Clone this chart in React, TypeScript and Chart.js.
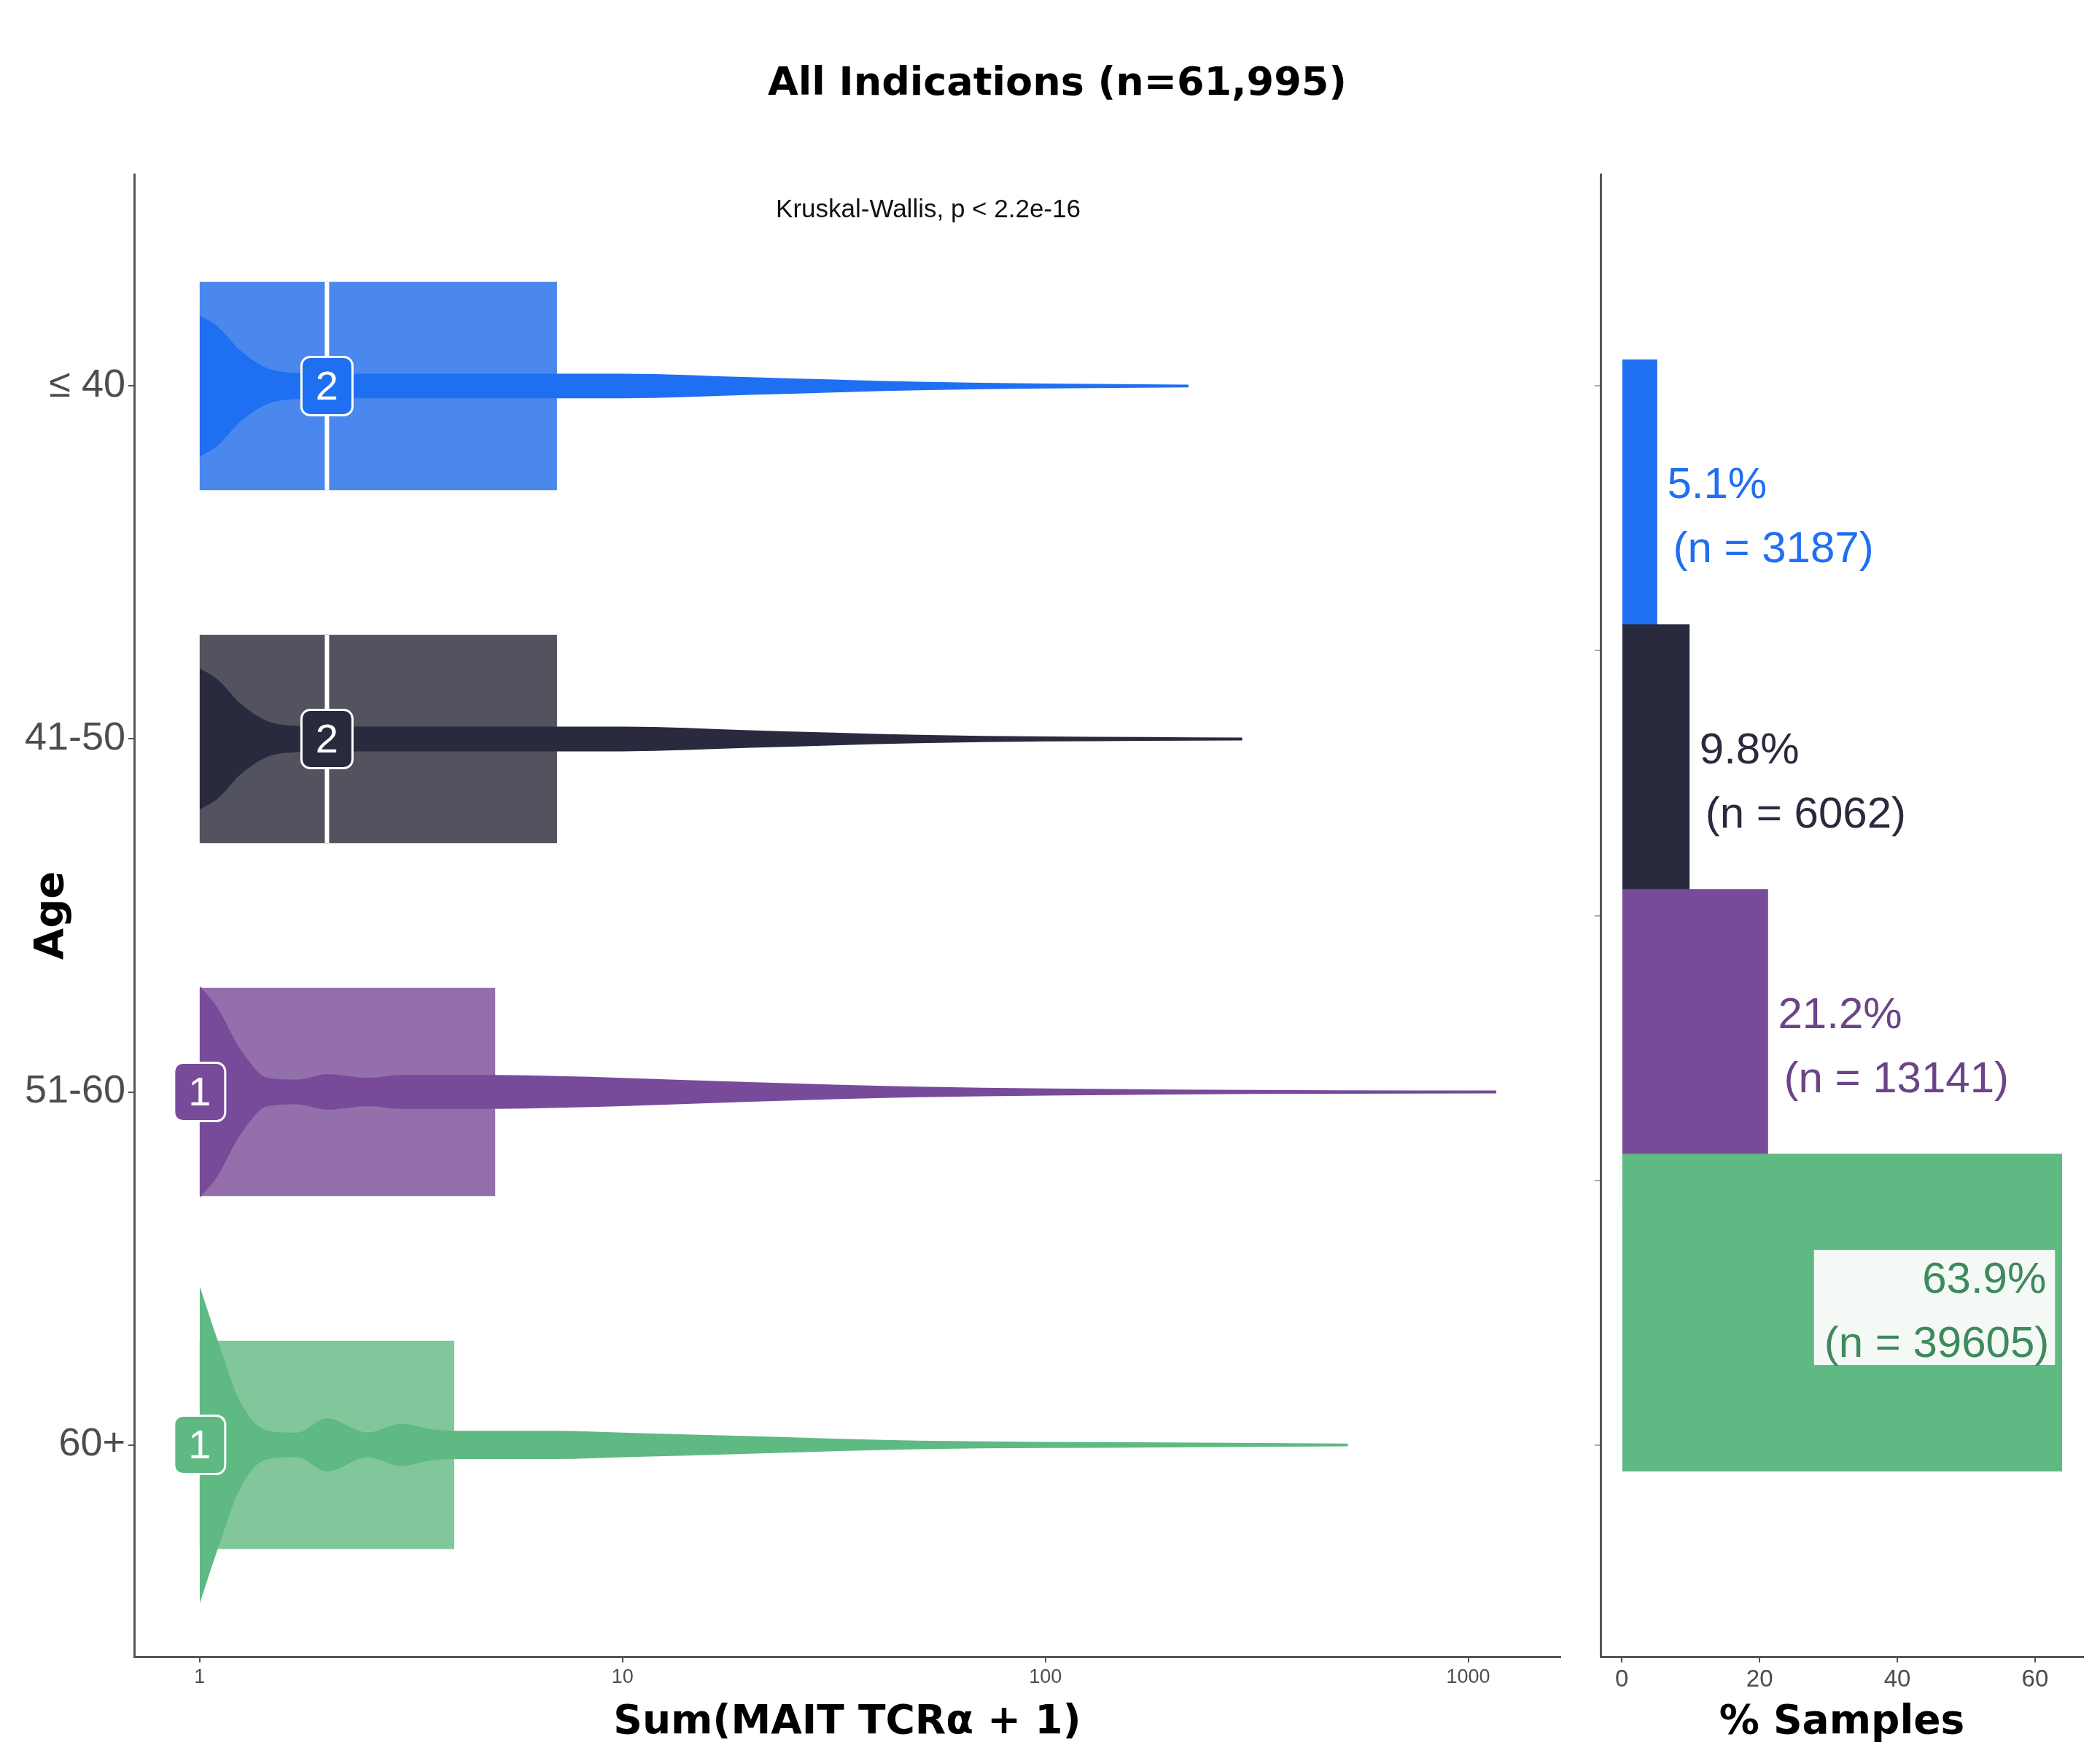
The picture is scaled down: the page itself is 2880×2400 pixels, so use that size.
import React, { useEffect, useRef } from "react";
import { Chart, registerables } from "chart.js";
Chart.register(...registerables);

const groups = ["≤ 40", "41-50", "51-60", "60+"];
const q1 = [1, 1, 1, 1];
const q3 = [7, 7, 5, 4];
const medians = [2, 2, 1, 1];
const maxima = [218, 292, 1165, 519];
const lineColors = ["#1F6FF2", "#2A2A3F", "#774A9A", "#5EB982"];
const boxColors = ["#4A88EE", "#53525F", "#9370AC", "#82C69B"];
const textColors = ["#1F6FF2", "#2A2A3F", "#6B4488", "#3E8A5C"];
const violinX = [
  [1, 1.1, 1.25, 1.45, 1.7, 2, 2.5, 3, 4, 5, 7, 10, 20, 50, 100, 218],
  [1, 1.1, 1.25, 1.45, 1.7, 2, 2.5, 3, 4, 5, 7, 10, 20, 50, 100, 292],
  [1, 1.1, 1.25, 1.45, 1.7, 2, 2.5, 3, 4, 5, 7, 10, 20, 50, 200, 1165],
  [1, 1.1, 1.25, 1.45, 1.7, 2, 2.5, 3, 3.5, 4, 7, 10, 20, 50, 200, 519],
];
const violinW = [
  [0.2, 0.17, 0.1, 0.05, 0.037, 0.035, 0.035, 0.035, 0.035, 0.035, 0.035, 0.035, 0.025, 0.012, 0.007, 0.004],
  [0.2, 0.17, 0.1, 0.05, 0.037, 0.035, 0.035, 0.035, 0.035, 0.035, 0.035, 0.035, 0.025, 0.012, 0.007, 0.004],
  [0.3, 0.24, 0.12, 0.04, 0.035, 0.05, 0.04, 0.048, 0.048, 0.048, 0.045, 0.04, 0.028, 0.015, 0.007, 0.004],
  [0.45, 0.3, 0.12, 0.04, 0.035, 0.075, 0.035, 0.06, 0.045, 0.04, 0.04, 0.035, 0.025, 0.012, 0.007, 0.004],
];
const pctValues = [5.1, 9.8, 21.2, 63.9];
const nValues = [3187, 6062, 13141, 39605];
const xTicks = [1, 10, 100, 1000];
const pctTicks = [0, 20, 40, 60];

const AXIS = "#555555";
const TICK = "#4d4d4d";

export default function App() {
  const leftRef = useRef<HTMLCanvasElement>(null);
  const rightRef = useRef<HTMLCanvasElement>(null);

  useEffect(() => {
    const datasets: any[] = [];
    groups.forEach((_, i) => {
      datasets.push({
        data: violinX[i].map((x, k) => ({ x, y: i - violinW[i][k] })),
        borderWidth: 0, pointRadius: 0, cubicInterpolationMode: "monotone",
        borderColor: lineColors[i], backgroundColor: lineColors[i], fill: false,
      });
      datasets.push({
        data: violinX[i].map((x, k) => ({ x, y: i + violinW[i][k] })),
        borderWidth: 0, pointRadius: 0, cubicInterpolationMode: "monotone",
        borderColor: lineColors[i], backgroundColor: lineColors[i], fill: "-1",
      });
      datasets.push({
        data: [{ x: violinX[i][violinX[i].length - 3], y: i }, { x: maxima[i], y: i }],
        borderWidth: 3, pointRadius: 0, borderColor: lineColors[i], fill: false,
      });
    });

    const boxPlugin = {
      id: "boxes",
      beforeDatasetsDraw(chart: any) {
        const { ctx, scales } = chart;
        const xs = scales.x, ys = scales.y;
        groups.forEach((_, i) => {
          const x0 = xs.getPixelForValue(q1[i]);
          const x1 = xs.getPixelForValue(q3[i]);
          const y0 = ys.getPixelForValue(i - 0.295);
          const y1 = ys.getPixelForValue(i + 0.295);
          ctx.save();
          ctx.fillStyle = boxColors[i];
          ctx.fillRect(x0, y0, x1 - x0, y1 - y0);
          ctx.restore();
        });
      },
      afterDatasetsDraw(chart: any) {
        const { ctx, scales } = chart;
        const xs = scales.x, ys = scales.y;
        groups.forEach((_, i) => {
          const y0 = ys.getPixelForValue(i - 0.295);
          const y1 = ys.getPixelForValue(i + 0.295);
          const xm = xs.getPixelForValue(medians[i]);
          const yc = ys.getPixelForValue(i);
          ctx.save();
          if (medians[i] > q1[i]) {
            ctx.strokeStyle = "#ffffff";
            ctx.lineWidth = 6;
            ctx.beginPath(); ctx.moveTo(xm, y0); ctx.lineTo(xm, y1); ctx.stroke();
          }
          const w = 70, h = 80;
          ctx.beginPath();
          ctx.roundRect(xm - w / 2, yc - h / 2, w, h, 12);
          ctx.fillStyle = lineColors[i];
          ctx.fill();
          ctx.lineWidth = 3;
          ctx.strokeStyle = "#ffffff";
          ctx.stroke();
          ctx.fillStyle = "#ffffff";
          ctx.font = "56px 'Liberation Sans'";
          ctx.textAlign = "center";
          ctx.textBaseline = "middle";
          ctx.fillText(String(medians[i]), xm, yc + 3);
          ctx.restore();
        });
        ctx.save();
        ctx.fillStyle = "#111";
        ctx.font = "35px 'Liberation Sans'";
        ctx.textAlign = "center";
        ctx.textBaseline = "middle";
        ctx.fillText("Kruskal-Wallis, p < 2.2e-16", 1273, 288);
        ctx.restore();
      },
    };

    const left = new Chart(leftRef.current!, {
      type: "line",
      data: { datasets },
      plugins: [boxPlugin],
      options: {
        animation: false, responsive: false,
        layout: { padding: { top: 239, right: 20, left: 34, bottom: 0 } },
        plugins: { legend: { display: false }, tooltip: { enabled: false } },
        scales: {
          x: {
            type: "logarithmic", min: 0.705, max: 1652,
            afterBuildTicks: (s: any) => { s.ticks = xTicks.map((v) => ({ value: v })); },
            afterFit: (s: any) => { s.height = 128; },
            ticks: { color: TICK, font: { size: 27, family: "Liberation Sans" }, callback: (v: any) => String(v), maxRotation: 0, padding: 4 },
            grid: { drawOnChartArea: false, drawTicks: true, tickLength: 8, color: AXIS, lineWidth: 2 },
            border: { display: true, color: AXIS, width: 3 },
            title: { display: true, text: "Sum(MAIT TCRα + 1)", color: "#000", font: { size: 55, weight: "bold", family: "DejaVu Sans" }, padding: { top: 0 } },
          },
          y: {
            type: "linear", min: -0.6, max: 3.6, reverse: true,
            afterBuildTicks: (s: any) => { s.ticks = [0, 1, 2, 3].map((v) => ({ value: v })); },
            afterFit: (s: any) => { s.width = 150; },
            ticks: { color: TICK, font: { size: 54, family: "Liberation Sans" }, callback: (v: any) => groups[v], padding: 4 },
            grid: { drawOnChartArea: false, drawTicks: true, tickLength: 8, color: AXIS, lineWidth: 2 },
            border: { display: true, color: AXIS, width: 3 },
            title: { display: true, text: "Age", color: "#000", font: { size: 56, weight: "bold", family: "DejaVu Sans" }, padding: { bottom: 0 } },
          },
        },
      },
    } as any);

    const labelPlugin = {
      id: "labels",
      afterDatasetsDraw(chart: any) {
        const { ctx, scales } = chart;
        const xs = scales.x, ys = scales.y;
        groups.forEach((_, i) => {
          const yc = ys.getPixelForValue(i);
          const xe = xs.getPixelForValue(pctValues[i]);
          ctx.save();
          ctx.font = "60px 'Liberation Sans'";
          ctx.textBaseline = "middle";
          ctx.fillStyle = textColors[i];
          const l1 = pctValues[i].toFixed(1) + "%";
          const l2 = "(n = " + nValues[i] + ")";
          if (i === 3) {
            const bx0 = xs.getPixelForValue(27.9);
            const bx1 = xs.getPixelForValue(62.9);
            ctx.fillStyle = "#F4F9F6";
            ctx.fillRect(bx0, yc - 86, bx1 - bx0, 158);
            ctx.fillStyle = textColors[i];
            ctx.textAlign = "right";
            ctx.fillText(l1, bx1 - 12, yc - 44);
            ctx.fillText(l2, bx1 - 8, yc + 44);
          } else {
            ctx.textAlign = "left";
            ctx.fillText(l1, xe + 14, yc - 44);
            ctx.fillText(l2, xe + 22, yc + 44);
          }
          ctx.restore();
        });
      },
    };

    const right = new Chart(rightRef.current!, {
      type: "bar",
      data: {
        datasets: [{ data: pctValues.map((v, i) => ({ x: v, y: i })), backgroundColor: lineColors, barThickness: 435 }],
      },
      plugins: [labelPlugin],
      options: {
        indexAxis: "y", animation: false, responsive: false,
        layout: { padding: { top: 239, right: 23, left: 0, bottom: 0 } },
        plugins: { legend: { display: false }, tooltip: { enabled: false } },
        scales: {
          x: {
            type: "linear", min: -3.1, max: 67,
            afterBuildTicks: (s: any) => { s.ticks = pctTicks.map((v) => ({ value: v })); },
            afterFit: (s: any) => { s.height = 128; },
            ticks: { color: TICK, font: { size: 33, family: "Liberation Sans" }, padding: 4 },
            grid: { drawOnChartArea: false, drawTicks: true, tickLength: 8, color: AXIS, lineWidth: 2 },
            border: { display: true, color: AXIS, width: 3 },
            title: { display: true, text: "% Samples", color: "#000", font: { size: 55, weight: "bold", family: "DejaVu Sans" }, padding: { top: 0 } },
          },
          y: {
            type: "linear", min: -0.6, max: 3.6, reverse: true,
            afterBuildTicks: (s: any) => { s.ticks = [0, 1, 2, 3].map((v) => ({ value: v })); },
            afterFit: (s: any) => { s.width = 35; },
            ticks: { display: false },
            grid: { drawOnChartArea: false, drawTicks: true, tickLength: 8, color: "#aaa", lineWidth: 2 },
            border: { display: true, color: AXIS, width: 3 },
          },
        },
      },
    } as any);

    return () => { left.destroy(); right.destroy(); };
  }, []);

  return (
    <div style={{ position: "relative", width: 2880, height: 2400, background: "#fff", margin: -8 }}>
      <div style={{ position: "absolute", top: 80, left: 0, width: 2900, textAlign: "center", fontFamily: "DejaVu Sans", fontWeight: "bold", fontSize: 54, color: "#000" }}>
        All Indications (n=61,995)
      </div>
      <canvas ref={leftRef} width={2160} height={2400} style={{ position: "absolute", left: 0, top: 0, width: 2160, height: 2400 }} />
      <canvas ref={rightRef} width={720} height={2400} style={{ position: "absolute", left: 2160, top: 0, width: 720, height: 2400 }} />
    </div>
  );
}
